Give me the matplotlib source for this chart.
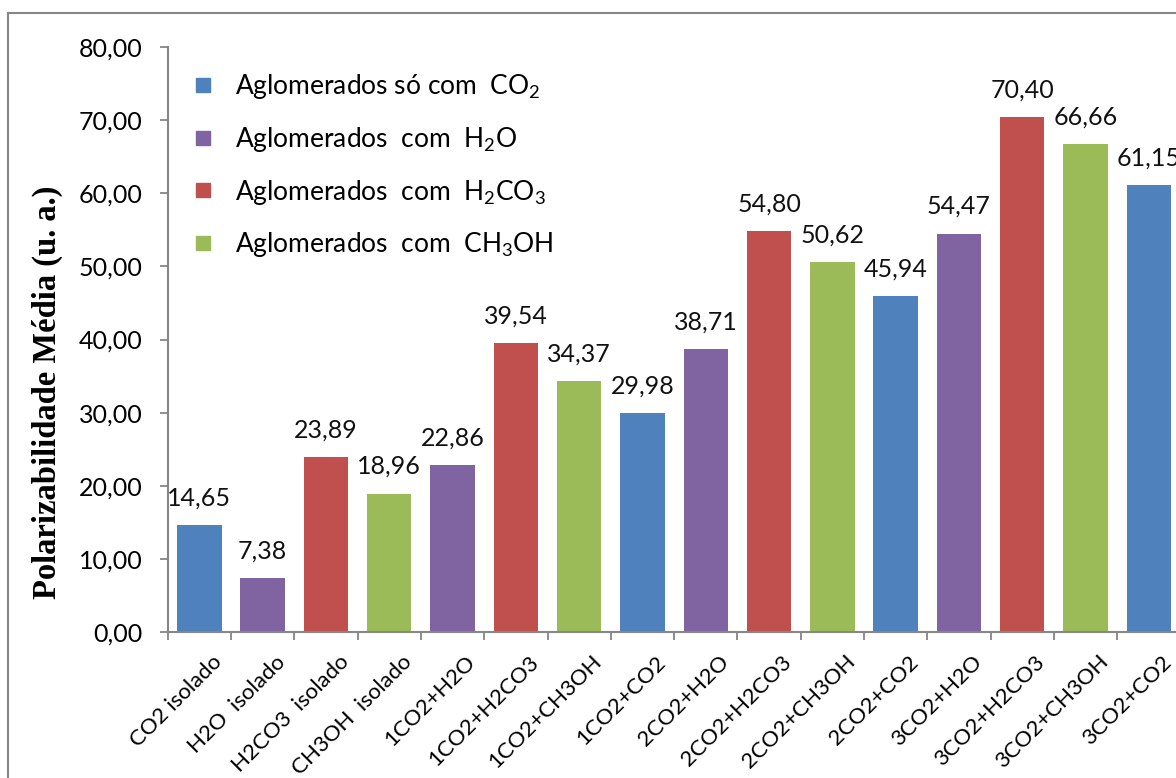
import matplotlib
matplotlib.use("Agg")
import matplotlib.pyplot as plt
from matplotlib.lines import Line2D
from matplotlib.patches import Rectangle

plt.rcParams["font.family"] = ["Lato", "DejaVu Sans"]
plt.rcParams["mathtext.fontset"] = "custom"
plt.rcParams["mathtext.rm"] = "Lato"
plt.rcParams["mathtext.it"] = "Lato"

# ---- data -------------------------------------------------------------
categories = ["CO2 isolado", "H2O  isolado", "H2CO3  isolado", "CH3OH  isolado",
              "1CO2+H2O", "1CO2+H2CO3", "1CO2+CH3OH", "1CO2+CO2",
              "2CO2+H2O", "2CO2+H2CO3", "2CO2+CH3OH", "2CO2+CO2",
              "3CO2+H2O", "3CO2+H2CO3", "3CO2+CH3OH", "3CO2+CO2"]
values = [14.65, 7.38, 23.89, 18.96, 22.86, 39.54, 34.37, 29.98,
          38.71, 54.80, 50.62, 45.94, 54.47, 70.40, 66.66, 61.15]
groups = [0, 1, 2, 3, 1, 2, 3, 0, 1, 2, 3, 0, 1, 2, 3, 0]
group_labels = [r"Aglomerados só com  CO$_2$",
                r"Aglomerados  com  H$_2$O",
                r"Aglomerados  com  H$_2$CO$_3$",
                r"Aglomerados  com  CH$_3$OH"]
group_colors = ["#4F81BD", "#8064A2", "#C0504D", "#9BBB59"]
yticks = [0, 10, 20, 30, 40, 50, 60, 70, 80]

W, H = 1176, 778
fig = plt.figure(figsize=(W / 100, H / 100), dpi=100)

# chart frame
fig.patches.append(Rectangle((8 / W, -0.1), 1.2, 1 - 13 / H + 0.1,
                             transform=fig.transFigure, fill=False,
                             edgecolor="#868686", linewidth=1.5))

x0, x1 = 167.7, 1180.5
y0, y1 = 632.3, 46.7
ax = fig.add_axes([x0 / W, 1 - y0 / H, (x1 - x0) / W, (y0 - y1) / H])

n = len(categories)
xs = list(range(n))
colors = [group_colors[g] for g in groups]
ax.bar(xs, values, width=0.7, color=colors, zorder=2)

for x, v in zip(xs, values):
    ax.annotate(f"{v:.2f}".replace(".", ","), (x, v), xytext=(0, 19.5),
                textcoords="offset points", ha="center", va="center",
                fontsize=18, color="#111111", annotation_clip=False)

ax.set_xlim(-0.5, n - 0.5)
ax.set_ylim(0, 80)
ax.set_yticks(yticks)
ax.set_yticklabels([f"{t:.2f}".replace(".", ",") for t in yticks], fontsize=18)
ax.tick_params(axis="y", length=6, width=1.3, color="#868686", pad=12)

ax.set_xticks([i - 0.5 for i in range(n + 1)])
ax.set_xticklabels([])
ax.tick_params(axis="x", length=5.5, width=1.3, color="#868686")
for i, lab in enumerate(categories):
    ax.annotate(lab, (i, 0), xytext=(9, -14), textcoords="offset points",
                rotation=45, rotation_mode="anchor", ha="right", va="top",
                fontsize=16, annotation_clip=False)

for s in ("top", "right"):
    ax.spines[s].set_visible(False)
for s in ("left", "bottom"):
    ax.spines[s].set_color("#868686")
    ax.spines[s].set_linewidth(1.5)

handles = [Line2D([], [], marker="s", linestyle="none", markersize=10,
                  markerfacecolor=c, markeredgecolor=c) for c in group_colors]
leg = ax.legend(handles, group_labels, loc="upper left",
                bbox_to_anchor=((179 - x0) / (x1 - x0), (y0 - 61.5) / (y0 - y1)),
                frameon=False, fontsize=19, labelspacing=0.9,
                handletextpad=0.74, handlelength=1.0, borderaxespad=0)

fig.text(47 / W, 1 - 392 / H, "Polarizabilidade Média (u. a.)", rotation=90,
         ha="center", va="center", fontsize=23.5, fontweight="bold",
         family=["Liberation Serif", "DejaVu Serif"])

fig.savefig("out.png", dpi=100)
